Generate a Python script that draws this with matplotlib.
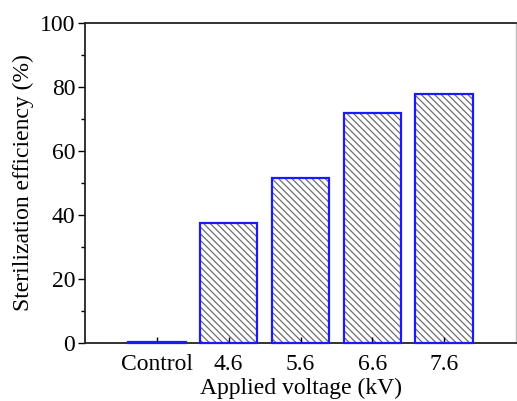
import matplotlib.pyplot as plt
import matplotlib as mpl

mpl.rcParams['font.family'] = ['Liberation Serif', 'DejaVu Serif']
mpl.rcParams['hatch.linewidth'] = 0.9

# data
categories = ['Control', '4.6', '5.6', '6.6', '7.6']
efficiency = [0.3, 37.5, 51.5, 71.9, 77.6]

fig = plt.figure(figsize=(5.17, 4.01), dpi=100)
ax = fig.add_axes([85 / 517, 58.3 / 401, 431 / 517, 320 / 401])

pos = list(range(len(categories)))

# hatched fill (grey) + blue outline on top
ax.bar(pos, efficiency, width=0.8, color='white', edgecolor='#6e6e6e',
       hatch='\\' * 5, linewidth=0)
ax.bar(pos, efficiency, width=0.8, fill=False, edgecolor='#1a1aff', linewidth=1.6,
       zorder=3, clip_on=False)

ax.set_xlim(-1, 5)
ax.set_ylim(0, 100)
ax.set_xticks(pos)
ax.set_xticklabels(categories)
ax.set_yticks([0, 20, 40, 60, 80, 100])
ax.set_yticks([10, 30, 50, 70, 90], minor=True)

ax.tick_params(axis='y', which='major', direction='out', length=5, width=1, labelsize=17, pad=2)
ax.tick_params(axis='y', which='minor', direction='out', length=3, width=1)
ax.tick_params(axis='x', which='major', direction='in', length=4, width=1, labelsize=17, pad=8)

for s in ['left', 'bottom', 'top']:
    ax.spines[s].set_linewidth(1.3)
    ax.spines[s].set_color('#222222')
ax.spines['right'].set_color('#bbbbbb')
ax.spines['right'].set_linewidth(1.0)

ax.set_xlabel('Applied voltage (kV)', fontsize=17, labelpad=2)
ax.set_ylabel('Sterilization efficiency (%)', fontsize=17, labelpad=4)

plt.savefig('out.png', dpi=100)
